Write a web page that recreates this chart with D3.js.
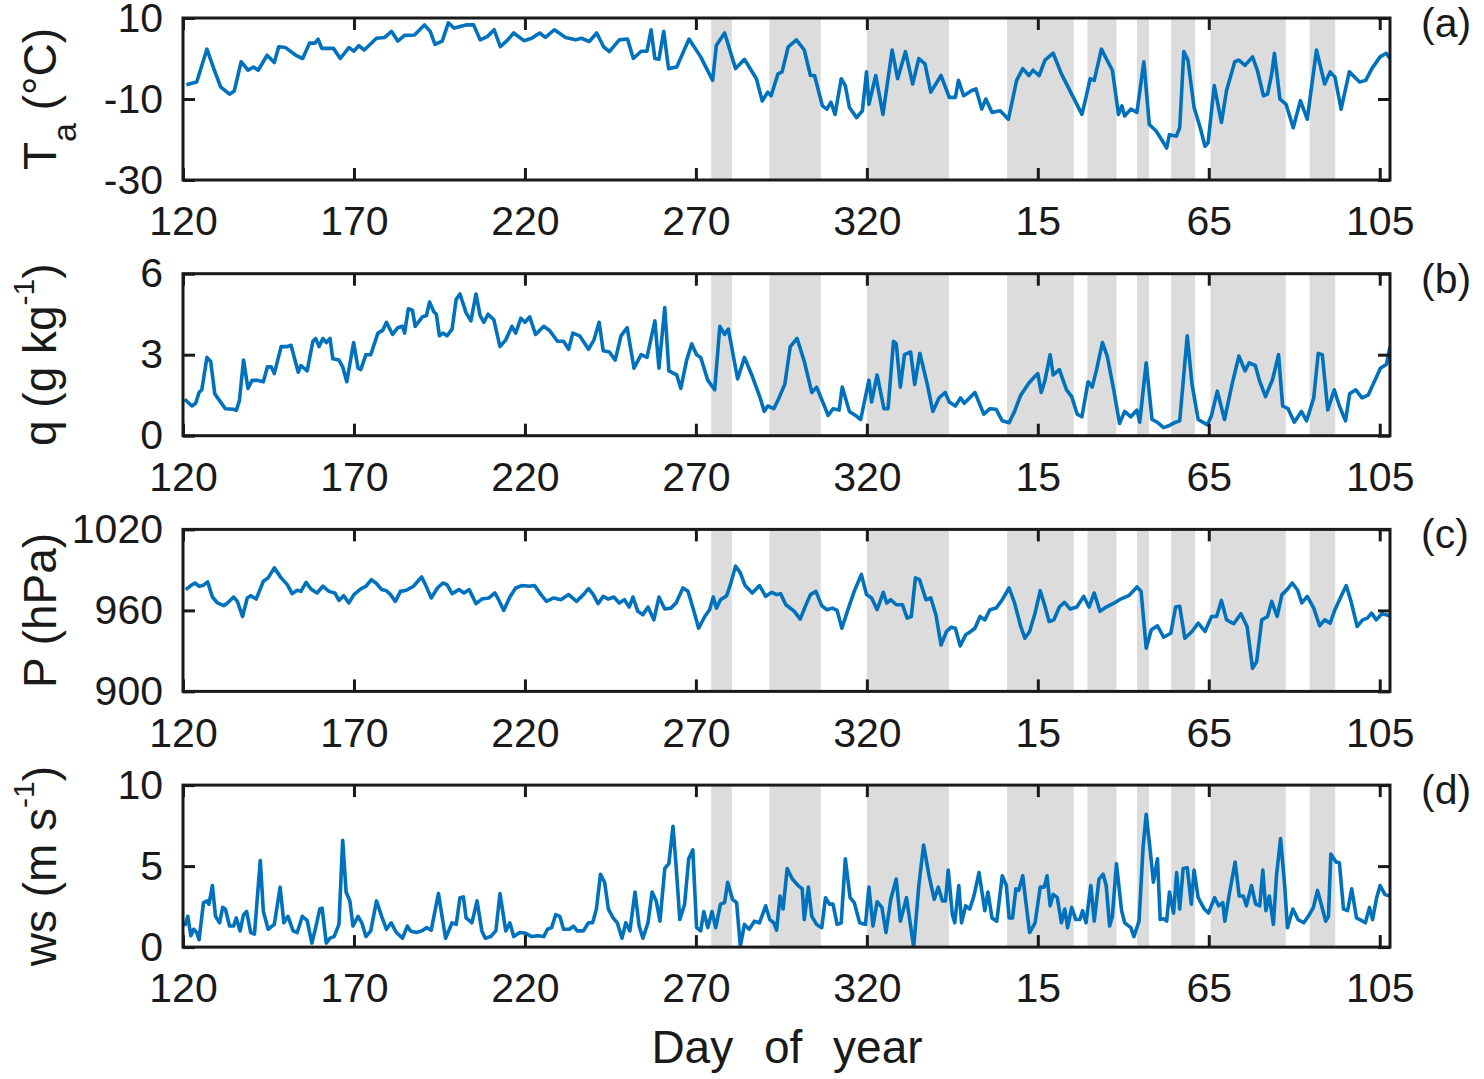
<!DOCTYPE html>
<html>
<head>
<meta charset="utf-8">
<script src="https://cdn.jsdelivr.net/npm/d3@7"></script>
<style>
  body { margin: 0; background: #fff; }
  text { font-family: "Liberation Sans", Arial, sans-serif; fill: #1a1a1a; }
</style>
</head>
<body>
<div id="chart"></div>
<script>
'use strict';

// x is a running day index: 120..365 then 366.. for the next year
const xTicks = [120, 170, 220, 270, 320, 370, 420, 470];
const xTickLabels = ['120', '170', '220', '270', '320', '15', '65', '105'];

// shaded periods [start, end] in the same running day index
const shadedPeriods = [
    [274.5, 280.5], [291.5, 306.5], [320, 344], [361, 380.5], [384.5, 393],
    [399, 402.5], [409, 416], [420.5, 442.5], [449.5, 457]
];

// air temperature (°C)
const taSeries = [
    [121,-6.5],[124,-5.8],[127,2.3],[129,-2.5],[131,-7],[133.6,-8.8],[135,-8],[137,-0.8],[139,-2.9],[140.6,-2.1],
    [142,-2.9],[144.6,0.8],[146.7,-1],[148,2.9],[150,2.7],[153,0.8],[155,0],[157,3.8],[158.6,3.8],[159.5,4.8],
    [160.6,2.5],[164,2.5],[166,0],[168.5,2.7],[170,1.8],[171.4,3.2],[173,2.1],[176.6,5],[179,5.2],[181,6.7],
    [182.8,4.3],[184.8,5.7],[187.7,5.8],[190.6,8.3],[192.3,6.7],[193.7,3.5],[195.8,4.3],[197.6,8.8],[199.3,7.5],[201,7.9],
    [202.8,8.3],[205,8.3],[206.9,4.6],[209,5.4],[211,7.1],[212.8,2.9],[215,4.6],[216.7,6.3],[219.7,4.4],[222,5],
    [224.3,6.3],[226,5.2],[228.6,7.1],[231.9,5.2],[234.8,4.6],[236.5,5],[238.8,4.2],[241,6.3],[243,2.9],[244.7,1.7],
    [247.6,4.6],[250,4.8],[251.7,0],[254,1.8],[255.7,1.8],[256.9,7.1],[258,0],[259.2,-0.2],[260.6,6.7],[262,-2.5],
    [264.4,-2.1],[268,4.8],[271.4,0.4],[274.9,-5.4],[276,3.3],[278.4,6.3],[281.6,-2.5],[284.2,-0.2],[287.7,-5],[289.4,-10.5],
    [291,-8.3],[292,-9.2],[294,-3.8],[295.2,-3.3],[297,2.9],[299.4,4.6],[301.7,2.1],[303.5,-4.2],[304.7,-4.2],[307,-11.7],
    [308.3,-12.5],[309.5,-10.8],[310.7,-13.8],[312.5,-5],[313.7,-6.7],[314.9,-12.1],[317,-14.6],[318.7,-12.9],[319.9,-3.3],[320.6,-11.3],
    [322.6,-4.2],[324.7,-13.8],[327.4,2.1],[329,-5],[331.3,1.7],[333.4,-6.3],[335.2,0],[337,-1.3],[338.7,-8.3],[341.7,-4.2],
    [344.1,-9.6],[345.9,-9.6],[346.8,-5.4],[348.3,-9.2],[350.7,-7.9],[351.9,-7.5],[353.6,-12.5],[354.8,-10],[356.6,-13.3],[359,-12.9],
    [361.4,-15],[363.8,-5.4],[365.6,-2.5],[367.4,-4.2],[368.6,-2.9],[370.4,-4.2],[372.1,-0.4],[374.5,1.3],[376.9,-3.8],[379.9,-8.8],
    [382.9,-13.8],[384.1,-9.6],[385.3,-5],[386.5,-5.4],[388.6,2.3],[390,0],[391.8,-2.9],[393.6,-13.8],[394.6,-11.7],[395.4,-14.2],
    [397.2,-12.5],[399,-13.3],[401,-0.8],[402.6,-16.3],[404.6,-17.9],[406.2,-20],[407.7,-22.1],[408.5,-18.8],[410.5,-19.2],[411.5,-17.1],
    [412.7,1.7],[413.9,-0.4],[415.7,-12.1],[417.5,-17.1],[418.9,-21.7],[419.8,-20.8],[421.6,-6.7],[423.7,-15.8],[425.2,-7.9],[427.6,-0.8],
    [428.8,-0.4],[430.6,-1.7],[432.8,0.4],[434.2,-2.9],[436,-9.2],[437.2,-8.8],[438.4,-3.8],[439.2,1.3],[440.8,-10],[442.6,-11.3],
    [444.7,-17.1],[446.8,-10.4],[448.8,-15],[451.5,2.1],[453.9,-6.3],[455.5,-3.3],[456.9,-4.6],[458.7,-12.5],[461.1,-3.3],[464.1,-5.8],
    [465.9,-5.4],[467.7,-2.5],[470.1,0.4],[471.9,1.3],[473,0]
];

// specific humidity (g/kg)
const qSeries = [
    [120.5,1.35],[122.6,1.1],[123.7,1.2],[124.7,1.6],[125.5,1.7],[127,2.9],[128.1,2.75],[129.3,1.55],[130.7,1.3],[132.4,1.0],
    [134.8,0.98],[135.6,0.94],[136.5,1.3],[137.7,2.8],[139,1.75],[140.2,2.05],[141.7,2.05],[143.5,2.0],[144.7,2.55],[145.8,2.55],
    [146.7,2.3],[148.7,3.3],[150.5,3.3],[151.6,3.35],[153.7,2.35],[154.5,2.6],[156.3,2.4],[158,3.5],[158.8,3.6],[159.8,3.3],
    [160.9,3.6],[161.9,3.45],[163,3.6],[163.8,2.85],[165.6,2.8],[166.7,2.55],[167.9,2.0],[169.9,3.45],[171.2,2.5],[172,2.45],
    [173.5,3.0],[174.9,3.0],[177,3.8],[178.4,3.9],[179.5,4.2],[181.3,3.75],[182.8,4.0],[184.2,4.05],[184.8,3.8],[185.9,4.7],
    [187.1,4.65],[187.9,4.05],[190,4.4],[191.2,4.45],[192.1,4.95],[193.3,4.6],[194.1,4.5],[195,3.7],[196,3.8],[197.2,3.7],
    [198.7,3.95],[199.9,5.05],[201,5.25],[202.8,4.55],[204.2,4.25],[205.7,5.25],[206.9,4.45],[208,4.2],[209.2,4.5],[210.9,4.3],
    [212.7,3.3],[214.4,3.55],[216.2,4.05],[217.3,3.8],[218.8,4.35],[220,4.2],[221.4,4.4],[223.1,3.75],[225.5,4.05],[227.2,3.9],
    [229.5,3.5],[231.3,3.5],[232.8,3.2],[234,3.8],[236,3.7],[238.6,3.2],[240.2,3.55],[241.7,4.2],[242.9,3.15],[244.7,3.1],
    [246.4,2.8],[248.1,3.7],[249.9,4.0],[251.9,2.5],[254,3.0],[255.7,2.9],[258,4.25],[259.2,2.5],[260.9,4.75],[262.1,2.4],
    [264.4,2.25],[265.6,1.75],[267.3,2.8],[268.8,3.4],[270.2,3.0],[271.4,2.9],[273.5,2.05],[275.5,1.7],[277,4.05],[278.4,3.75],
    [279.5,3.95],[282.2,2.1],[284.2,2.9],[286.5,2.2],[288.8,1.4],[290,0.9],[291,1.1],[292.8,1.0],[294.3,1.4],[296,1.9],
    [297.6,3.3],[299.6,3.6],[301.7,2.75],[303.9,1.6],[305.3,1.8],[307.1,1.25],[308.7,0.75],[310.1,1.0],[311.9,0.95],[312.8,1.8],
    [314.9,0.9],[316.7,0.75],[318.2,0.6],[320.6,2.05],[321.4,1.25],[323,2.25],[325,1.0],[326.2,1.0],[327.8,3.5],[328.6,3.4],
    [329.8,1.8],[331,3.0],[332.8,3.1],[334,1.9],[335.5,3.05],[337.6,1.95],[339.3,0.9],[341.1,1.4],[342.9,1.6],[344.1,1.25],
    [345.9,1.1],[347.4,1.4],[348.5,1.2],[351.6,1.6],[354.2,0.8],[356,1.0],[357.8,0.98],[359.6,0.55],[361.6,0.48],[363.2,0.9],
    [365,1.5],[367.4,1.95],[369.2,2.2],[370,2.3],[371,1.6],[372.1,2.05],[373.6,3.0],[374.5,2.25],[376.3,2.45],[378.4,1.7],
    [379.9,1.45],[381.5,0.8],[382.9,0.7],[384.7,2.0],[385.9,1.8],[387.1,2.4],[388.9,3.45],[390.3,2.95],[392.2,1.7],[393.9,0.45],
    [395.4,0.9],[397.2,0.7],[399,0.95],[399.8,0.5],[401.7,2.7],[403.4,0.6],[404.9,0.5],[406.8,0.3],[408.5,0.38],[410.3,0.5],
    [411.5,0.55],[413.7,3.7],[415.1,1.9],[416.9,0.6],[419.6,0.4],[420.8,0.75],[422.5,1.65],[424.6,0.6],[426.8,1.9],[428.8,2.95],
    [430.6,2.4],[431.8,2.7],[433.6,2.6],[434.8,2.05],[436.6,1.45],[438.7,2.1],[440.4,3.0],[441.6,1.1],[443.2,1.0],[445,0.5],
    [447.1,0.9],[448.6,0.55],[450.7,1.4],[452,3.05],[453.2,3.0],[454.8,0.95],[456.7,1.7],[458.2,1.1],[460,0.55],[461.2,1.55],
    [463,1.7],[464.8,1.4],[466.6,1.5],[468.4,2.0],[470.2,2.5],[472,2.65],[473,3.3]
];

// surface pressure (hPa)
const pSeries = [
    [120.8,975.4],[122.3,978.4],[123.5,980.3],[124.7,977.9],[125.8,978.4],[127.2,981.1],[128.6,969.9],[130.1,965.5],[131.9,963.5],[133,965.5],
    [134.8,969.9],[135.9,966.7],[137.4,955.5],[138.8,969.2],[139.8,970.9],[141.4,968.4],[143.5,981.6],[144.9,984.1],[146.7,991.5],[148.7,984.1],
    [150.5,979.1],[151.9,972.4],[153.4,974.9],[154.5,974.1],[156,980.8],[157.4,975.9],[159.2,972.9],[160.9,977.9],[162.7,974.1],[164.4,972.9],
    [165.6,967.4],[167,970.9],[168.5,965.5],[170,971.7],[172,975.9],[173.5,977.9],[175.1,982.8],[176.6,979.9],[178.1,975.4],[179.5,974.6],
    [180.7,971.7],[182.1,966.7],[183.6,974.1],[185.3,974.9],[187.4,977.9],[189.8,984.8],[190.9,979.1],[192.6,969.2],[194.4,976.6],[196,980.3],
    [197.2,979.1],[198.7,972.4],[200.7,975.4],[202.2,972.9],[203.7,975.4],[205.7,965],[207.4,968.4],[209.5,969.2],[211.2,972.9],[212.3,967.9],
    [213.8,960],[215.6,969.9],[217.3,976.6],[219.1,978.4],[221.4,977.9],[222.8,978.4],[224.7,971.7],[226.3,966.7],[228.4,969.2],[230.5,967.9],
    [232.8,971.7],[235.1,966.7],[237.1,971.7],[238.6,976.1],[240,971.7],[241.4,965],[242.9,970.4],[244.4,968.4],[246,969.9],[247.6,965.5],
    [249.1,967.9],[250.5,962.5],[251.6,969.9],[253,959.3],[254.5,956.8],[256,962.5],[257.7,953],[259.2,969.9],[260.9,961],[262.7,961.7],
    [264.2,965.5],[266.2,976.6],[267.7,974.1],[269.3,960.5],[270.8,946.8],[272.6,955.5],[274,960.5],[275.1,969.9],[276,961.7],[277.2,967.9],
    [279,970.9],[280.1,979.1],[281.6,992.8],[283,987.8],[284.4,978.4],[286.5,972.9],[288.6,978.4],[290.4,970.4],[292.2,973.4],[293.6,971.7],
    [294.8,972.4],[296.3,964.2],[298.8,959.3],[300.5,953.5],[302,963],[303.5,971.7],[305.1,974.1],[306.8,963.5],[308.3,960.5],[309.9,961.7],
    [311.3,960],[312.7,946.8],[314.3,959.3],[316.3,974.1],[318.4,986.6],[319.9,971.7],[321.4,969.2],[323,960.5],[324.8,973.4],[325.8,965.5],
    [327,967.9],[328.6,964.2],[330.4,964.2],[331.8,954.3],[333,955.5],[334.2,984.1],[335.4,982.8],[337.3,967.9],[338.7,969.2],[340.2,956.8],
    [341.7,934.4],[343.3,944.4],[344.7,947.6],[345.9,946.8],[347.3,933.7],[348.9,941.9],[350.4,944.4],[351.6,946.8],[353.1,955.5],[354.5,953],
    [356,960.5],[357.8,961.7],[359.6,967.9],[361.6,976.6],[363.2,965.5],[365,948.1],[366.2,939.4],[367.6,944.4],[369.2,958],[370.7,974.6],
    [372.1,963],[373.3,951.8],[374.7,953],[376.3,962.5],[377.8,966],[379.5,961],[381.4,962.5],[383.4,970.4],[385,962.5],[386.5,972.9],
    [388.2,959.3],[390,962.5],[392.4,965.5],[394.2,968.4],[396.6,970.9],[399,977.4],[400.2,974.1],[401.7,932],[403.2,945.6],[405,948.6],
    [406.8,940.1],[408.9,943.1],[410.3,962.5],[411.5,963],[413,939.4],[415.1,944.4],[416.9,950.6],[418.9,944.4],[420.8,955.5],[422.3,955.5],
    [423.7,967.4],[425.2,953],[427.3,950.1],[429.4,957.5],[431.2,948.1],[432.8,917.1],[434,922],[435.5,953],[437.2,955.5],[438.4,966.7],
    [440,955.5],[441.4,971.7],[442.9,975.4],[444.4,980.3],[446,974.9],[447.2,965.5],[448.8,970.4],[450.7,961.7],[452.4,948.6],[453.9,953],
    [455.5,950.6],[456.9,960.5],[458.7,970.4],[460.2,978.4],[461.6,966.7],[463.4,948.1],[465,953],[466.4,954.3],[467.6,958],[469,953],
    [470.6,957.5],[473,956]
];

// wind speed (m/s)
const wsSeries = [
    [120.5,1.3],[121.4,1.9],[122.3,0.7],[123.1,1.1],[124,0.9],[124.7,0.45],[126,2.75],[127,2.85],[127.6,2.65],[128.6,3.8],
    [129.5,1.9],[130.7,1.5],[131.6,2.45],[132.4,2.35],[133.6,1.3],[134.8,1.3],[135.6,1.8],[136.7,1.0],[137.7,2.0],[138.6,2.2],
    [139.8,0.9],[140.9,0.8],[142.6,5.35],[143.5,2.2],[144.9,1.1],[146.7,1.4],[148.4,3.7],[149.5,1.5],[150.7,1.9],[152.2,1.0],
    [153.4,0.9],[154.9,1.9],[156.3,1.65],[157.7,0.25],[158.8,1.2],[160,2.35],[160.7,2.4],[161.9,0.25],[163,0.55],[164.2,0.65],
    [165.6,1.4],[166.7,6.6],[167.7,3.4],[168.8,2.85],[169.7,1.3],[171.2,1.9],[172.3,1.5],[173.5,0.65],[174.9,1.0],[176.6,2.85],
    [178.1,1.9],[179.5,1.1],[180.9,1.5],[182.4,0.9],[184.2,0.55],[185.6,1.3],[186.5,1.0],[188.3,0.9],[189.8,1.0],[191.2,1.2],
    [192.6,1.05],[194.7,3.3],[196.8,0.55],[198.7,1.5],[199.9,1.4],[201,3.05],[202,3.1],[202.8,1.8],[204.5,1.5],[206,2.85],
    [207.4,1.0],[208.4,0.55],[210,0.65],[211.5,1.0],[212.7,3.3],[214.4,1.0],[215.6,1.5],[216.7,0.65],[218.5,0.9],[220.2,0.85],
    [222,0.65],[223.7,0.7],[225.5,0.65],[226.6,1.1],[227.8,1.2],[229,2.0],[230.2,1.9],[231.3,1.1],[233,1.1],[234.2,1.3],
    [235.3,1.0],[237.1,1.0],[238.6,1.5],[239.8,1.5],[240.9,2.35],[242.1,4.5],[243.3,4.0],[244.4,2.35],[245.8,1.8],[247,1.5],
    [248.4,0.55],[249.5,1.5],[250.7,1.0],[252.2,3.4],[253.4,1.3],[254.5,0.55],[256,1.5],[257.2,3.4],[258.4,2.85],[259.5,1.6],
    [260.9,4.85],[262.1,5.15],[263.3,7.45],[264.2,5.05],[265.3,1.7],[266.7,2.65],[267.9,5.45],[269.1,6.0],[270.2,1.2],[271.4,1.0],
    [272.3,2.2],[273.5,1.2],[274.7,2.2],[275.8,1.2],[277.2,2.65],[278.4,2.75],[279.3,4.0],[280.7,2.95],[281.9,2.75],[283,0.05],
    [284.2,1.4],[285.6,1.1],[287.1,1.6],[288.6,1.5],[290.4,2.55],[291.6,1.7],[292.8,1.5],[293.6,1.05],[294.6,3.15],[295.5,2.35],
    [296.7,4.85],[298.2,4.2],[299.9,3.8],[301.1,3.6],[301.7,1.7],[302.9,3.7],[303.9,1.9],[305.3,1.4],[306.8,1.2],[307.9,3.05],
    [309.1,2.65],[310.1,2.65],[311.3,1.4],[312.5,1.5],[313.7,5.45],[315.1,3.05],[316.3,2.75],[317.9,1.5],[319.6,1.4],[320.6,3.7],
    [321.8,1.3],[323,2.8],[324.4,2.45],[325.6,0.9],[327,2.95],[328.6,4.2],[329.8,1.6],[331.6,3.05],[333.7,0.0],[335.2,3.8],
    [336.6,6.3],[338.2,4.4],[339.7,2.95],[340.9,3.7],[342.1,2.85],[343,2.85],[343.8,4.75],[345,2.0],[345.7,1.5],[346.9,3.8],
    [347.7,1.5],[348.9,2.55],[350.1,2.35],[351.3,3.15],[352.8,4.6],[354.5,2.25],[355.4,3.4],[356.6,1.8],[358,1.6],[359.6,4.4],
    [360.8,3.8],[361.6,1.8],[362.6,1.8],[363.6,3.6],[364.4,3.5],[365.6,4.4],[366.4,2.95],[367.6,0.9],[369.2,1.5],[370.7,3.7],
    [371.9,3.7],[372.7,4.4],[373.6,2.55],[374.5,3.25],[375.7,3.05],[376.9,1.5],[377.9,2.35],[378.7,1.2],[379.9,2.45],[381.1,1.7],
    [382.3,1.7],[383.1,2.25],[384.1,1.5],[385.5,3.8],[386.5,1.6],[387.9,4.2],[389.1,4.5],[390,3.8],[391,1.3],[391.8,1.9],
    [393,5.15],[394.5,2.25],[395.4,1.5],[397.2,1.2],[398.1,0.65],[399.6,1.6],[400.8,6.2],[401.7,8.2],[402.9,5.9],[403.8,4.0],
    [405,5.45],[405.8,1.7],[406.8,1.75],[407.7,1.6],[408.5,3.4],[409.7,2.1],[410.6,4.6],[411.5,2.35],[412.5,4.85],[413.7,4.9],
    [414.9,2.65],[415.7,4.75],[416.9,3.05],[418.7,2.35],[419.9,2.1],[421.7,3.05],[422.9,2.55],[424.1,2.75],[424.7,1.6],[425.9,3.15],
    [427.7,5.25],[428.9,3.15],[430.1,3.15],[431,2.55],[432.5,3.8],[433.7,2.65],[434.9,2.55],[435.8,4.75],[436.7,2.25],[437.7,3.15],
    [438.9,1.4],[439.8,4.4],[441,6.7],[442.2,3.8],[443,1.2],[444.6,2.35],[446.1,1.7],[447.8,1.5],[449.4,2.0],[450.6,2.45],
    [451.8,3.5],[453,2.55],[454.2,1.6],[455,1.9],[455.7,5.75],[457.2,5.25],[458.2,5.2],[459.4,2.35],[460.6,2.25],[461.8,3.6],
    [463.2,1.8],[465,1.6],[465.8,1.5],[467,2.45],[467.9,1.7],[469.1,3.05],[470.1,3.8],[471.5,3.25],[473,3.15]
];

const panels = [
    {tag: '(a)', series: taSeries, domain: [-30, 10], ticks: [-30, -10, 10],
     label: [['T'], ['a', 'sub'], [' (°C)']]},
    {tag: '(b)', series: qSeries, domain: [0, 6], ticks: [0, 3, 6],
     label: [['q (g kg'], ['-1', 'sup'], [')']]},
    {tag: '(c)', series: pSeries, domain: [900, 1020], ticks: [900, 960, 1020],
     label: [['P (hPa)']]},
    {tag: '(d)', series: wsSeries, domain: [0, 10], ticks: [0, 5, 10],
     label: [['ws (m s'], ['-1', 'sup'], [')']]}
];

const width = 1484, height = 1079;
const plotLeft = 183, plotRight = 1390;
const firstTop = 18, panelHeight = 162, panelStep = 255.7;
const tickFont = 41, labelFont = 46;
const lineColor = '#0072BD', shadeColor = '#dcdcdc';

const svg = d3.select('#chart').append('svg')
    .attr('width', width)
    .attr('height', height);

const x = d3.scaleLinear().domain([120, 473]).range([plotLeft, plotRight]);

function styleAxis(g) {
    g.select('.domain').remove();
    g.selectAll('.tick line').attr('stroke', '#1a1a1a').attr('stroke-width', 3);
    g.attr('font-size', tickFont)
        .attr('font-family', '"Liberation Sans", Arial, sans-serif')
        .attr('color', '#1a1a1a');
}

panels.forEach(function (p, i) {
    const top = firstTop + i * panelStep;
    const g = svg.append('g').attr('transform', 'translate(0,' + top + ')');
    const y = d3.scaleLinear().domain(p.domain).range([panelHeight, 0]);

    const clipId = 'clip' + i;
    g.append('clipPath').attr('id', clipId)
        .append('rect')
        .attr('x', plotLeft).attr('y', 0)
        .attr('width', plotRight - plotLeft).attr('height', panelHeight);

    g.selectAll('.shade').data(shadedPeriods).enter()
        .append('rect')
        .attr('class', 'shade')
        .attr('x', function (d) { return x(d[0]); })
        .attr('y', 0)
        .attr('width', function (d) { return x(d[1]) - x(d[0]); })
        .attr('height', panelHeight)
        .attr('fill', shadeColor);

    const line = d3.line()
        .x(function (d) { return x(d[0]); })
        .y(function (d) { return y(d[1]); });

    g.append('path')
        .datum(p.series)
        .attr('clip-path', 'url(#' + clipId + ')')
        .attr('d', line)
        .attr('fill', 'none')
        .attr('stroke', lineColor)
        .attr('stroke-width', 3.6)
        .attr('stroke-linejoin', 'round');

    // bottom axis with labels, top axis ticks only
    g.append('g')
        .attr('transform', 'translate(0,' + panelHeight + ')')
        .call(d3.axisBottom(x).tickValues(xTicks)
            .tickFormat(function (d, k) { return xTickLabels[k]; })
            .tickSizeInner(-12).tickSizeOuter(0).tickPadding(26))
        .call(styleAxis);

    g.append('g')
        .call(d3.axisTop(x).tickValues(xTicks).tickFormat('')
            .tickSizeInner(-12).tickSizeOuter(0))
        .call(styleAxis);

    g.append('g')
        .attr('transform', 'translate(' + plotLeft + ',0)')
        .call(d3.axisLeft(y).tickValues(p.ticks)
            .tickFormat(function (d) { return String(d); })
            .tickSizeInner(-12).tickSizeOuter(0).tickPadding(20))
        .call(styleAxis);

    g.append('g')
        .attr('transform', 'translate(' + plotRight + ',0)')
        .call(d3.axisRight(y).tickValues(p.ticks).tickFormat('')
            .tickSizeInner(-12).tickSizeOuter(0))
        .call(styleAxis);

    g.append('rect')
        .attr('x', plotLeft).attr('y', 0)
        .attr('width', plotRight - plotLeft).attr('height', panelHeight)
        .attr('fill', 'none')
        .attr('stroke', '#1a1a1a')
        .attr('stroke-width', 3);

    // y label, rotated
    const lab = g.append('text')
        .attr('transform', 'translate(56,' + (panelHeight / 2) + ') rotate(-90)')
        .attr('text-anchor', 'middle')
        .attr('font-size', labelFont);
    let shift = 0;
    p.label.forEach(function (part) {
        const ts = lab.append('tspan').text(part[0]);
        if (part[1] === 'sub') {
            ts.attr('font-size', 34).attr('dy', 20 - shift);
            shift = 20;
        } else if (part[1] === 'sup') {
            ts.attr('font-size', 30).attr('dy', -22 - shift);
            shift = -22;
        } else if (shift !== 0) {
            ts.attr('dy', -shift);
            shift = 0;
        }
    });

    g.append('text')
        .attr('x', 1421)
        .attr('y', 19)
        .attr('font-size', tickFont)
        .text(p.tag);
});

svg.append('text')
    .attr('x', 787)
    .attr('y', 1063)
    .attr('text-anchor', 'middle')
    .attr('font-size', labelFont)
    .attr('word-spacing', 18)
    .text('Day of year');
</script>
</body>
</html>
